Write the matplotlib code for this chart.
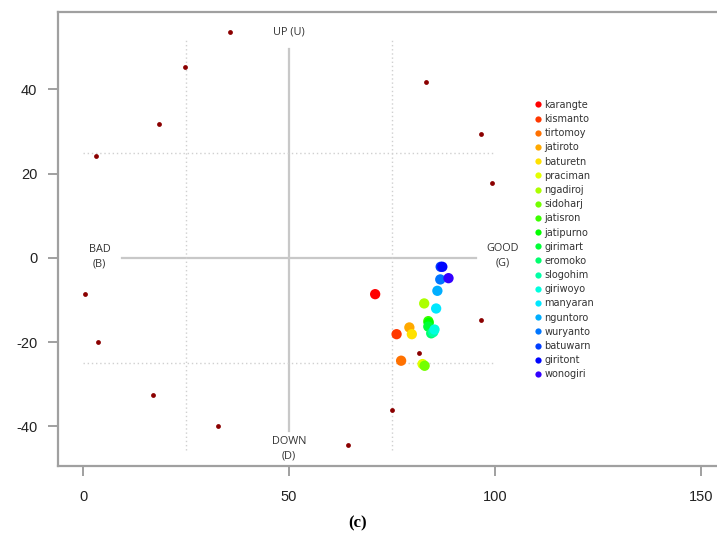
import numpy as np
import matplotlib
matplotlib.use("Agg")
import matplotlib.pyplot as plt
from matplotlib.colors import hsv_to_rgb
from matplotlib.lines import Line2D

plt.rcParams["axes.unicode_minus"] = False

# ── data ─────────────────────────────────────────────────────────────────────
names = ["karangte", "kismanto", "tirtomoy", "jatiroto", "baturetn", "praciman",
         "ngadiroj", "sidoharj", "jatisron", "jatipurno", "girimart", "eromoko",
         "slogohim", "giriwoyo", "manyaran", "nguntoro", "wuryanto", "batuwarn",
         "giritont", "wonogiri"]
pos_x = [70.9, 76.1, 77.2, 79.2, 79.8, 82.4, 82.8, 82.9, 83.8, 83.9, 83.8, 84.5,
         85.0, 85.3, 85.7, 86.0, 86.7, 86.8, 87.2, 88.7]
pos_y = [-8.6, -18.1, -24.4, -16.5, -18.1, -25.2, -10.8, -25.6, -15.0, -15.4, -16.3, -17.9,
         -17.6, -17.0, -12.0, -7.8, -5.1, -2.1, -2.1, -4.8]

# dark-red boundary points around the frame
ring_x = [35.7, 24.8, 18.4, 3.2, 0.5, 3.6, 17.0, 32.8, 64.3, 75.0, 81.6,
          83.3, 96.6, 99.3, 96.6]
ring_y = [53.7, 45.4, 31.8, 24.2, -8.6, -20.0, -32.5, -39.9, -44.4, -36.1, -22.6,
          41.8, 29.5, 17.8, -14.7]

xticks = [0, 50, 100, 150]
yticks = [-40, -20, 0, 20, 40]

# rainbow palette (hue 0 → 0.7), like R's rainbow()
hues = np.linspace(0, 0.7, len(names))
cols = [hsv_to_rgb((h, 1, 1)) for h in hues]

fig = plt.figure(figsize=(7.17, 5.48), dpi=100)
ax = fig.add_axes([58 / 717, 1 - 466 / 548, 1 - 58 / 717 + 0.01, (466 - 12) / 548])
ax.set_xlim(-6.07, 154.0 + 0.01 * 160)
ax.set_ylim(-49.4, 58.4)

gray = "#a0a0a0"
for s in ["left", "bottom", "top", "right"]:
    ax.spines[s].set_color(gray)
    ax.spines[s].set_linewidth(1.6)
ax.set_xticks(xticks)
ax.set_yticks(yticks)
ax.tick_params(direction="out", length=7, width=1.4, color=gray,
               labelsize=10.5, labelcolor="#222222")
ax.tick_params(axis="x", pad=10)
ax.tick_params(axis="y", pad=8)
for lab in ax.get_xticklabels() + ax.get_yticklabels():
    lab.set_family("Liberation Sans")

# quadrant guides
ax.plot([50, 50], [-41, 49.5], color="#c8c8c8", lw=1.6, zorder=1)
ax.plot([9.5, 95.4], [0, 0], color="#c8c8c8", lw=1.6, zorder=1)
for xv in [25, 75]:
    ax.plot([xv, xv], [-45.6, 52], color="#d0d0d0", lw=1, ls=(0, (1, 2)), zorder=1)
for yv in [25, -25]:
    ax.plot([0, 100], [yv, yv], color="#d0d0d0", lw=1, ls=(0, (1, 2)), zorder=1)

lab_kw = dict(ha="center", va="center", fontsize=7.8, color="#333333",
              family="Open Sans", linespacing=1.5)
ax.text(50, 53.7, "UP (U)", **lab_kw)
ax.text(50, -45.3, "DOWN\n(D)", **lab_kw)
ax.text(4, 0.3, "BAD\n(B)", **lab_kw)
ax.text(101.8, 0.5, "GOOD\n(G)", **lab_kw)

ax.scatter(ring_x, ring_y, s=12, color="#8b0000", zorder=3, linewidths=0)
ax.scatter(pos_x, pos_y, s=55, c=cols, zorder=4, linewidths=0)

handles = [Line2D([], [], ls="none", marker="o", ms=4.5, mfc=c, mec="none") for c in cols]
fig.legend(handles, names, loc="upper left", bbox_to_anchor=(528 / 717, 1 - 96 / 548),
           frameon=False, fontsize=7, labelspacing=0.43, handletextpad=0.1,
           handlelength=1.2, borderaxespad=0, labelcolor="#333333")

fig.text(358 / 717, 1 - 523 / 548, "(c)", ha="center", va="center", fontsize=12,
         family="Liberation Serif", fontweight="bold")

fig.savefig("out.png", dpi=100)
